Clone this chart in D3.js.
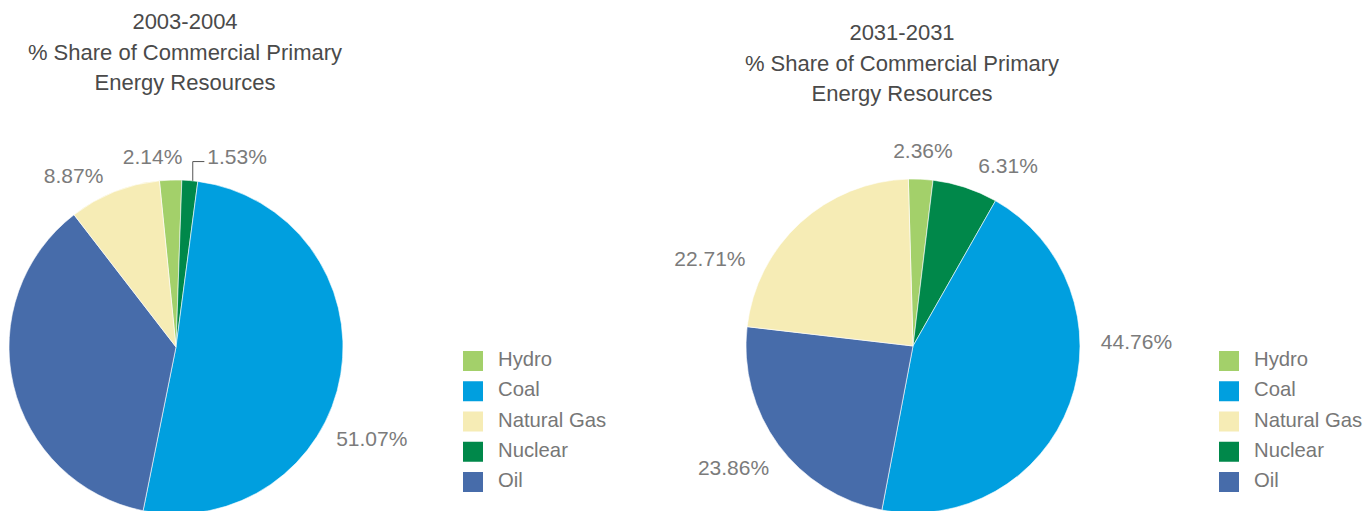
<!DOCTYPE html>
<html>
<head>
<meta charset="utf-8">
<script src="https://cdn.jsdelivr.net/npm/d3@7"></script>
<style>
  body { margin: 0; background: #ffffff; }
  svg { display: block; font-family: "Liberation Sans", Arial, sans-serif; }
  .title { fill: #4a4a4a; font-size: 22px; text-anchor: middle; }
  .pct { fill: #7b7b7b; font-size: 21px; }
  .legend-text { fill: #777777; font-size: 20.3px; }
</style>
</head>
<body>
<div id="chart"></div>
<script>
// legend order
var categories = ["Hydro", "Coal", "Natural Gas", "Nuclear", "Oil"];
var colors = ["#a3d06a", "#009fdf", "#f6ecb5", "#00884a", "#476caa"];

// % share, same order as categories
var share2003 = [2.14, 51.07, 8.87, 1.53, 36.39];
var share2031 = [2.36, 44.76, 22.71, 6.31, 23.86];

// order of the wedges, clockwise
var pieOrder = ["Hydro", "Nuclear", "Coal", "Oil", "Natural Gas"];

var titles2003 = ["2003-2004", "% Share of Commercial Primary", "Energy Resources"];
var titles2031 = ["2031-2031", "% Share of Commercial Primary", "Energy Resources"];

var svgWidth = 1363;
var svgHeight = 511;
var radius = 167;

var svg = d3.select("#chart").append("svg")
    .attr("width", svgWidth)
    .attr("height", svgHeight);

var color = d3.scaleOrdinal().domain(categories).range(colors);

// label placement: [angle in degrees from 12 o'clock, distance from centre], null = no label
var charts = [
    {
        values: share2003,
        titles: titles2003,
        cx: 176, cy: 347,
        start: -5.7,
        titleX: 185, titleY: 29,
        legendX: 463,
        labels: { "Hydro": [-7.0, 192], "Nuclear": [17.8, 200], "Coal": [115, 216], "Oil": null, "Natural Gas": [-30.8, 200] },
        leader: "Nuclear"
    },
    {
        values: share2031,
        titles: titles2031,
        cx: 913, cy: 346,
        start: -1.6,
        titleX: 902, titleY: 40,
        legendX: 1219,
        labels: { "Hydro": [2.9, 196], "Nuclear": [27.8, 204], "Coal": [89, 223.5], "Oil": [235.8, 217], "Natural Gas": [293.2, 221] },
        leader: null
    }
];

var rad = Math.PI / 180;

charts.forEach(function (c) {

    var data = pieOrder.map(function (name) {
        return { name: name, value: c.values[categories.indexOf(name)] };
    });

    var pie = d3.pie()
        .sort(null)
        .value(d => d.value)
        .startAngle(c.start * rad)
        .endAngle(c.start * rad + 2 * Math.PI);

    var arc = d3.arc().innerRadius(0).outerRadius(radius);

    var g = svg.append("g")
        .attr("transform", `translate(${c.cx}, ${c.cy})`);

    var arcs = pie(data);

    g.selectAll("path")
        .data(arcs)
        .enter()
        .append("path")
        .attr("d", arc)
        .attr("fill", d => color(d.data.name))
        .attr("stroke", "#ffffff")
        .attr("stroke-width", 0.6);

    arcs.forEach(function (d) {
        var pos = c.labels[d.data.name];
        if (!pos) return;
        var p = d3.pointRadial(pos[0] * rad, pos[1]);
        var txt = g.append("text")
            .classed("pct", true)
            .attr("x", p[0])
            .attr("y", p[1])
            .attr("dy", "0.35em")
            .attr("text-anchor", "middle")
            .text(d.data.value.toFixed(2) + "%");

        if (c.leader == d.data.name) {
            var box = txt.node().getBBox();
            var mid = (d.startAngle + d.endAngle) / 2 + 1 * rad;
            var e = d3.pointRadial(mid, radius);
            var ly = p[1] + 5;
            g.append("polyline")
                .attr("points", [[e[0], e[1]], [e[0], ly], [box.x - 3, ly]].map(q => q.join(",")).join(" "))
                .attr("fill", "none")
                .attr("stroke", "#555555")
                .attr("stroke-width", 1);
        }
    });

    // title
    svg.append("g")
        .selectAll("text")
        .data(c.titles)
        .enter()
        .append("text")
        .classed("title", true)
        .attr("x", c.titleX)
        .attr("y", (d, i) => c.titleY + i * 30.5)
        .text(d => d);

    // legend
    var legend = svg.append("g")
        .attr("transform", `translate(${c.legendX}, 351)`);

    var item = legend.selectAll("g")
        .data(categories)
        .enter()
        .append("g")
        .attr("transform", (d, i) => `translate(0, ${i * 30.25})`);

    item.append("rect")
        .attr("width", 20)
        .attr("height", 20)
        .attr("fill", d => color(d));

    item.append("text")
        .classed("legend-text", true)
        .attr("x", 35)
        .attr("y", 15)
        .text(d => d);
});
</script>
</body>
</html>
